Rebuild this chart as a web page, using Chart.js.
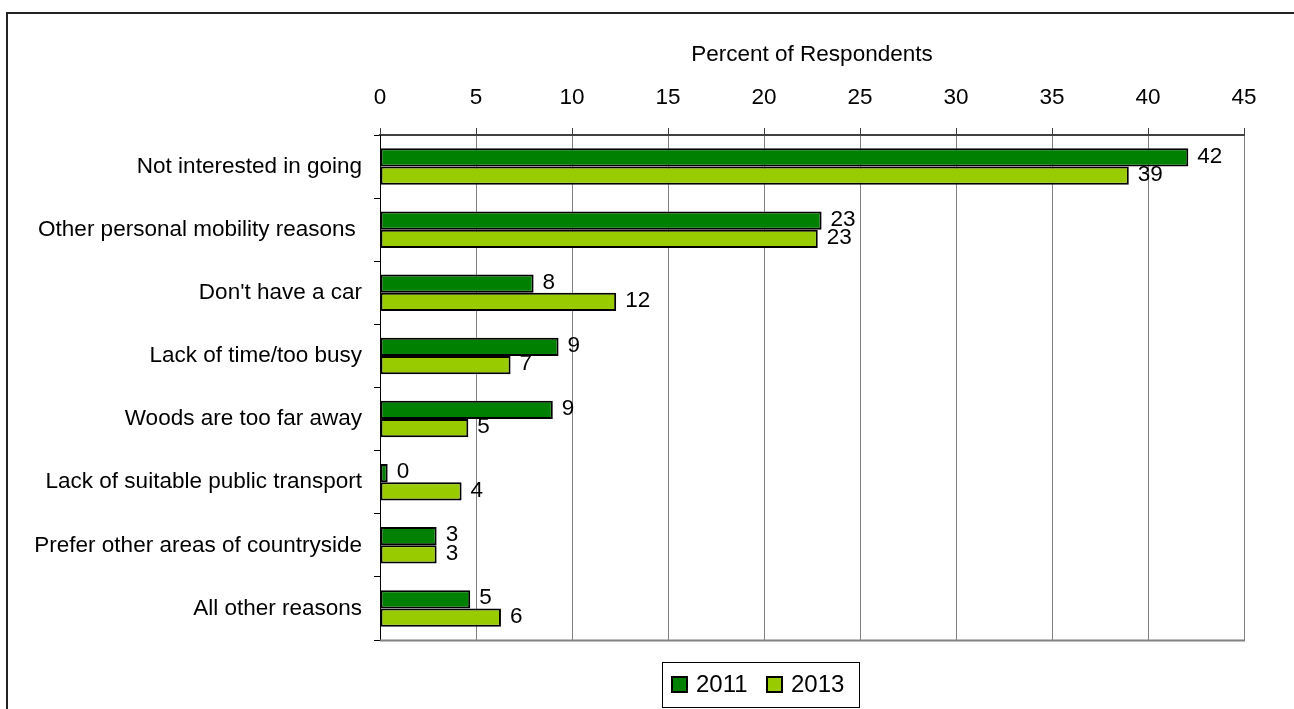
<!DOCTYPE html>
<html>
<head>
<meta charset="utf-8">
<script src="https://cdn.jsdelivr.net/npm/chart.js@4/dist/chart.umd.min.js"></script>
<style>
  html, body { margin: 0; padding: 0; background: #fff; }
  #wrap { width: 1294px; height: 709px; }
</style>
</head>
<body>
<div id="wrap"><canvas id="c" width="1294" height="709"></canvas></div>
<script>
const categories = [
  "Not interested in going",
  "Other personal mobility reasons ",
  "Don't have a car",
  "Lack of time/too busy",
  "Woods are too far away",
  "Lack of suitable public transport",
  "Prefer other areas of countryside",
  "All other reasons"
];
const values2011 = [42.1, 23.0, 8.0, 9.3, 9.0, 0.4, 2.95, 4.7];
const values2013 = [39.0, 22.8, 12.3, 6.8, 4.6, 4.25, 2.95, 6.3];
const seriesNames = ["2011", "2013"];
const xTicks = [0, 5, 10, 15, 20, 25, 30, 35, 40, 45];
const axisTitle = "Percent of Respondents";

const FONT = "'Liberation Sans', Arial, sans-serif";
const COLORS = ["#008000", "#99CC00"];

const decorPlugin = {
  id: 'decor',
  beforeDraw(chart) {
    const ctx = chart.ctx;
    ctx.save();
    ctx.fillStyle = '#fff';
    ctx.fillRect(0, 0, chart.width, chart.height);
    ctx.restore();
  },
  afterDatasetsDraw(chart) {
    const ctx = chart.ctx;
    const a = chart.chartArea;
    ctx.save();
    ctx.strokeStyle = '#808080';
    ctx.lineWidth = 2;
    ctx.beginPath();
    ctx.moveTo(a.left, a.bottom + 0.5);
    ctx.lineTo(a.right + 1, a.bottom + 0.5);
    ctx.stroke();
    ctx.fillStyle = '#000';
    ctx.font = "22.5px " + FONT;
    ctx.textAlign = 'left';
    ctx.textBaseline = 'middle';
    chart.data.datasets.forEach((ds, di) => {
      const meta = chart.getDatasetMeta(di);
      meta.data.forEach((bar, i) => {
        const txt = String(Math.round(ds.data[i]));
        ctx.fillText(txt, bar.x + 9, bar.y - 1);
      });
    });
    ctx.strokeStyle = '#222';
    ctx.lineWidth = 2;
    ctx.beginPath();
    ctx.moveTo(7, chart.height);
    ctx.lineTo(7, 13);
    ctx.lineTo(chart.width, 13);
    ctx.stroke();
    const lx = 662, ly = 662, lw = 197, lh = 45;
    ctx.strokeStyle = '#000';
    ctx.lineWidth = 1;
    ctx.strokeRect(lx + 0.5, ly + 0.5, lw, lh);
    const items = [
      { sx: 672, tx: 696 },
      { sx: 767, tx: 791 }
    ];
    ctx.font = "24px " + FONT;
    ctx.textBaseline = 'alphabetic';
    items.forEach((it, k) => {
      ctx.fillStyle = COLORS[k];
      ctx.fillRect(it.sx, 677, 15, 15);
      ctx.strokeStyle = '#000';
      ctx.lineWidth = 2;
      ctx.strokeRect(it.sx, 677, 15, 15);
      ctx.fillStyle = '#000';
      ctx.fillText(seriesNames[k], it.tx, 692);
    });
    ctx.restore();
  }
};

new Chart(document.getElementById('c'), {
  type: 'bar',
  data: {
    labels: categories,
    datasets: [
      { label: seriesNames[0], data: values2011, backgroundColor: COLORS[0], borderColor: '#000', borderWidth: 2, borderSkipped: false },
      { label: seriesNames[1], data: values2013, backgroundColor: COLORS[1], borderColor: '#000', borderWidth: 2, borderSkipped: false }
    ]
  },
  options: {
    indexAxis: 'y',
    responsive: false,
    animation: false,
    devicePixelRatio: 1,
    layout: { padding: { top: 20, right: 50, bottom: 69, left: 0 } },
    datasets: { bar: { categoryPercentage: 0.58, barPercentage: 1.0 } },
    plugins: { legend: { display: false }, tooltip: { enabled: false } },
    scales: {
      x: {
        position: 'top',
        min: 0, max: 45,
        afterBuildTicks(scale) { scale.ticks = xTicks.map(v => ({ value: v })); },
        ticks: { color: '#000', font: { family: FONT, size: 22.5 }, padding: 17, maxRotation: 0 },
        grid: { color: '#808080', lineWidth: 1, tickLength: 7, tickColor: '#404040' },
        border: { color: '#404040', width: 2 },
        title: { display: true, text: axisTitle, color: '#000', font: { family: FONT, size: 22.5 }, padding: { top: 21, bottom: 0 } },
        afterFit(scale) { scale.height = 115; }
      },
      y: {
        ticks: { color: '#000', font: { family: FONT, size: 22.5 }, padding: 12, autoSkip: false },
        grid: { drawOnChartArea: false, drawTicks: true, tickLength: 6, color: '#000', offset: true },
        border: { color: '#000', width: 1 },
        afterFit(scale) { scale.width = 380; }
      }
    }
  },
  plugins: [decorPlugin]
});
</script>
</body>
</html>
